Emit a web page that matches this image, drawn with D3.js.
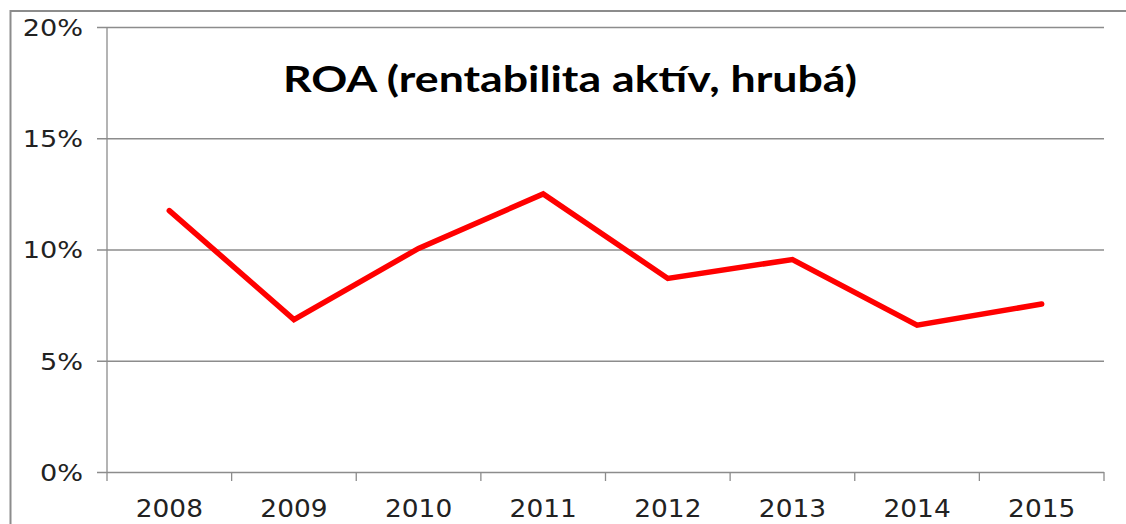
<!DOCTYPE html>
<html>
<head>
<meta charset="utf-8">
<script src="https://cdn.jsdelivr.net/npm/d3@7"></script>
<style>
  body { margin: 0; background: #fff; }
  svg { display: block; }
</style>
</head>
<body>
<div class="chart"></div>
<script>
// data
const years = ["2008", "2009", "2010", "2011", "2012", "2013", "2014", "2015"];
const roa = [11.75, 6.85, 10.05, 12.5, 8.7, 9.55, 6.6, 7.55];
const yTicks = [0, 5, 10, 15, 20];
const title = "ROA (rentabilita aktív, hrubá)";

const margin = {top: 27, right: 22, bottom: 52, left: 107};
const W = 1126, H = 524;
const width = W - margin.left - margin.right,
    height = H - margin.top - margin.bottom;

var root = d3.select(".chart").append("svg")
    .attr("width", W)
    .attr("height", H);

// outer chart border (runs off right/bottom)
root.append("rect")
    .attr("x", 10.5)
    .attr("y", 11)
    .attr("width", 1130)
    .attr("height", 540)
    .attr("fill", "none")
    .attr("stroke", "#8c8c8c")
    .attr("stroke-width", 2);

var svg = root.append("g")
    .attr("transform", "translate(" + margin.left + "," + margin.top + ")");

const xScale = d3.scaleBand()
    .domain(years)
    .range([0, width]);

const yScale = d3.scaleLinear()
    .domain([0, 20])
    .range([height, 0]);

// gridlines + y axis
const yAxis = d3.axisLeft(yScale)
    .tickValues(yTicks)
    .tickSize(-width)
    .tickPadding(24)
    .tickFormat(d => d + "%");

var yG = svg.append("g")
    .attr("class", "yAxis")
    .call(yAxis);
yG.select(".domain").remove();
yG.selectAll(".tick line")
    .attr("x1", -10)
    .attr("stroke", "#8c8c8c")
    .attr("stroke-width", 1.3);
yG.selectAll(".tick text")
    .attr("font-family", "DejaVu Sans, Verdana, sans-serif")
    .attr("font-size", 23)
    .attr("fill", "#222")
    .attr("dy", "0.36em")
    .each(function() {
        this.setAttribute("textLength", this.getComputedTextLength() * 1.18);
        this.setAttribute("lengthAdjust", "spacingAndGlyphs");
    });

// vertical axis line
svg.append("line")
    .attr("x1", 0).attr("x2", 0)
    .attr("y1", 0).attr("y2", height)
    .attr("stroke", "#8c8c8c")
    .attr("stroke-width", 1.3);

// x axis with ticks at band edges
const xAxis = d3.axisBottom(xScale)
    .tickSize(0)
    .tickPadding(28);

var xG = svg.append("g")
    .attr("class", "xAxis")
    .attr("transform", `translate(0, ${height})`)
    .call(xAxis);
xG.select(".domain").remove();
xG.selectAll(".tick text")
    .attr("font-family", "DejaVu Sans, Verdana, sans-serif")
    .attr("font-size", 24)
    .attr("fill", "#222")
    .each(function() {
        this.setAttribute("textLength", this.getComputedTextLength() * 1.1);
        this.setAttribute("lengthAdjust", "spacingAndGlyphs");
    });

var edges = years.map(d => xScale(d)).concat([width]);
xG.selectAll(".edge")
    .data(edges)
    .enter()
    .append("line")
    .attr("class", "edge")
    .attr("x1", d => d).attr("x2", d => d)
    .attr("y1", 0).attr("y2", 9)
    .attr("stroke", "#8c8c8c")
    .attr("stroke-width", 1.3);

// the ROA line
const line = d3.line()
    .x((d, i) => xScale(years[i]) + xScale.bandwidth() / 2)
    .y(d => yScale(d));

svg.append("path")
    .datum(roa)
    .attr("d", line)
    .attr("fill", "none")
    .attr("stroke", "#ff0000")
    .attr("stroke-width", 5.5)
    .attr("stroke-linejoin", "miter")
    .attr("stroke-linecap", "round");

// title
root.append("text")
    .text(title)
    .attr("x", 570)
    .attr("y", 92)
    .attr("text-anchor", "middle")
    .attr("font-family", "Lato, Open Sans, sans-serif")
    .attr("font-weight", "bold")
    .attr("font-size", 37)
    .attr("fill", "#000")
    .attr("textLength", 574)
    .attr("lengthAdjust", "spacingAndGlyphs");
</script>
</body>
</html>
